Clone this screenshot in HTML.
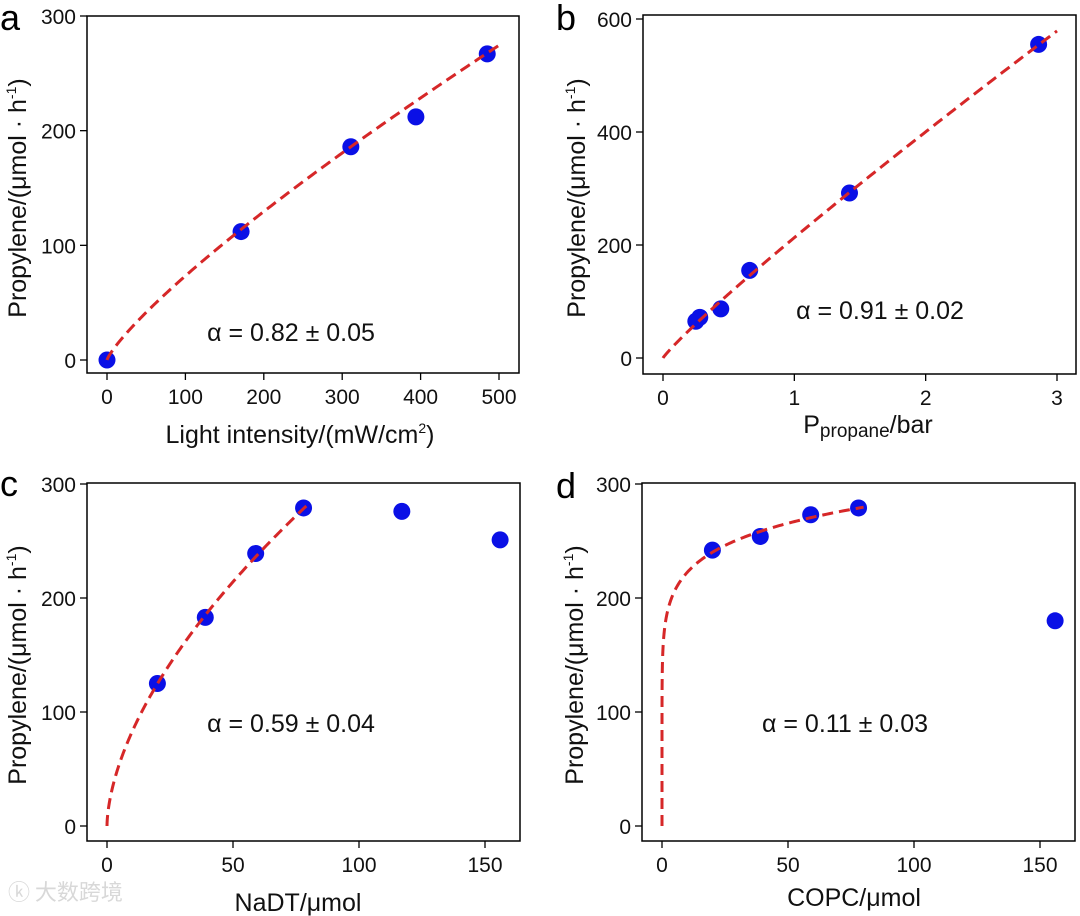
<!DOCTYPE html>
<html><head><meta charset="utf-8"><style>
html,body{margin:0;padding:0;background:#fff;}
svg{display:block;font-family:"Liberation Sans",Arial,"Noto Sans CJK SC",sans-serif;}
</style></head><body>
<svg id="fig" width="1080" height="916" viewBox="0 0 1080 916">
<text x="8" y="900" font-size="22" fill="#d8d8d8" font-family="'Noto Sans CJK SC',sans-serif">ⓚ 大数跨境</text>
</svg>
<script>
const aX=[0,171,311,394,485];
const aY=[0,112,186,212,267];
const aXTicks=[0,100,200,300,400,500];
const aYTicks=[0,100,200,300];
const bX=[0.25,0.28,0.44,0.66,1.42,2.86];
const bY=[65,72,87,155,292,555];
const bXTicks=[0,1,2,3];
const bYTicks=[0,200,400,600];
const cX=[20,39,59,78,117,156];
const cY=[125,183,239,279,276,251];
const cXTicks=[0,50,100,150];
const cYTicks=[0,100,200,300];
const dX=[20,39,59,78,156];
const dY=[242,254,273,279,180];
const dXTicks=[0,50,100,150];
const dYTicks=[0,100,200,300];
const alphas=[0.82,0.91,0.59,0.11];
const fitK=[1.68,213,21.3,172.7];
const fitMax=[500,3.0,80,80];

const NS='http://www.w3.org/2000/svg';
const svg=document.getElementById('fig');
function el(tag,attrs,parent){const e=document.createElementNS(NS,tag);for(const k in attrs)e.setAttribute(k,attrs[k]);(parent||svg).appendChild(e);return e;}

const panels=[
 {id:'a',box:[87,16,519,373],x0:107,x1:499,xv:[0,500],y0:360,y1:16,yv:[0,300],X:aX,Y:aY,xt:aXTicks,yt:aYTicks,
  letter:[0,30],ann:[291,341,'α = 0.82 ± 0.05'],xl:[300,443],yl:[26,198]},
 {id:'b',box:[643,15,1076,374],x0:663,x1:1057,xv:[0,3],y0:358,y1:19,yv:[0,600],X:bX,Y:bY,xt:bXTicks,yt:bYTicks,
  letter:[556,30],ann:[880,319,'α = 0.91 ± 0.02'],xl:[868,433],yl:[585,198]},
 {id:'c',box:[87,483,520,841],x0:107,x1:485,xv:[0,150],y0:826,y1:484,yv:[0,300],X:cX,Y:cY,xt:cXTicks,yt:cYTicks,
  letter:[0,496],ann:[291,732,'α = 0.59 ± 0.04'],xl:[298,911],yl:[26,665]},
 {id:'d',box:[642,483,1075,841],x0:662,x1:1040,xv:[0,150],y0:826,y1:484,yv:[0,300],X:dX,Y:dY,xt:dXTicks,yt:dYTicks,
  letter:[556,498],ann:[845,732,'α = 0.11 ± 0.03'],xl:[854,906],yl:[583,665]}
];

panels.forEach((p,pi)=>{
 const g=el('g',{});
 
 
 const sx=v=>p.x0+(v-p.xv[0])/(p.xv[1]-p.xv[0])*(p.x1-p.x0);
 const sy=v=>p.y0+(v-p.yv[0])/(p.yv[1]-p.yv[0])*(p.y1-p.y0);
 const [l,t,r,b]=p.box;
 const frame=el('rect',{x:l,y:t,width:r-l,height:b-t,fill:'none',stroke:'#000','stroke-width':1.5},g);
 
 
 p.xt.forEach(v=>{
  const x=sx(v);
  el('line',{x1:x,y1:b,x2:x,y2:b+7,stroke:'#000','stroke-width':1.3},g);
  const tx=el('text',{x:x,y:b+31,'font-size':21,'text-anchor':'middle',fill:'#111'},g);
  tx.textContent=v;
  
  
 });
 p.yt.forEach(v=>{
  const y=sy(v);
  el('line',{x1:l-7,y1:y,x2:l,y2:y,stroke:'#000','stroke-width':1.3},g);
  const ty=el('text',{x:l-11,y:y+8,'font-size':21,'text-anchor':'end',fill:'#111'},g);
  ty.textContent=v;
  
  
 });
 p.X.forEach((xv,i)=>{
  const c=el('circle',{cx:sx(xv),cy:sy(p.Y[i]),r:8.5,fill:'#0a10e6'},g);
  
  
 });
 let d='';const N=200;
 for(let i=0;i<=N;i++){const xv=fitMax[pi]*Math.pow(i/N,pi===3?3:1.5);const yv=fitK[pi]*Math.pow(xv,alphas[pi]);d+=(i?'L':'M')+sx(xv).toFixed(2)+','+sy(yv).toFixed(2);}
 const fit=el('path',{d:d,fill:'none',stroke:'#d62728','stroke-width':3,'stroke-dasharray':'11,6'},g);
 
 
 const lt=el('text',{x:p.letter[0],y:p.letter[1],'font-size':36,fill:'#000'},g);
 lt.textContent=p.id;
 
 
 const an=el('text',{x:p.ann[0],y:p.ann[1],'font-size':25,'text-anchor':'middle',fill:'#111'},g);
 an.textContent=p.ann[2];
 
 
 const yl=el('text',{x:0,y:0,'font-size':25,'text-anchor':'middle',fill:'#111',transform:'translate('+p.yl[0]+','+p.yl[1]+') rotate(-90)'},g);
 yl.innerHTML='Propylene/(μmol · h<tspan font-size="14" dy="-10">-1</tspan><tspan dy="10">)</tspan>';
 
 
 const xl=el('text',{x:p.xl[0],y:p.xl[1],'font-size':25,'text-anchor':'middle',fill:'#111'},g);
 if(p.id==='a') xl.innerHTML='Light intensity/(mW/cm<tspan font-size="14" dy="-10">2</tspan><tspan dy="10">)</tspan>';
 else if(p.id==='b') xl.innerHTML='P<tspan font-size="19" dy="4">propane</tspan><tspan dy="-4">/bar</tspan>';
 else if(p.id==='c') xl.textContent='NaDT/μmol';
 else xl.textContent='COPC/μmol';
 
 
});
</script>
</body></html>
